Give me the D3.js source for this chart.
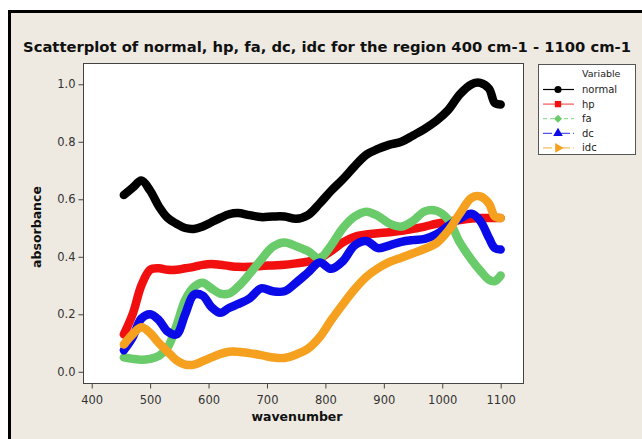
<!DOCTYPE html>
<html>
<head>
<meta charset="utf-8">
<script src="https://cdn.jsdelivr.net/npm/d3@7"></script>
<style>
  body { margin: 0; background: #fff; }
  text { font-family: "DejaVu Sans", Verdana, sans-serif; }
</style>
</head>
<body>
<div id="chart"></div>
<script>
// wavenumber grid shared by every series
var wavenumber = [455, 470, 485, 500, 515, 530, 545, 560, 575, 590, 605, 620, 635, 650, 670, 690, 710, 730, 750, 770,
  790, 810, 830, 850, 870, 890, 910, 930, 950, 970, 990, 1010, 1030, 1050, 1065, 1080, 1090, 1100];

var normal = [0.615, 0.64, 0.665, 0.63, 0.575, 0.535, 0.515, 0.50, 0.497, 0.505, 0.52, 0.535, 0.548, 0.552, 0.545, 0.538, 0.54, 0.54, 0.532, 0.545,
  0.585, 0.63, 0.67, 0.715, 0.755, 0.775, 0.79, 0.80, 0.822, 0.845, 0.873, 0.91, 0.965, 1.0, 1.005, 0.985, 0.935, 0.93];
var hp = [0.13, 0.20, 0.30, 0.355, 0.36, 0.355, 0.355, 0.36, 0.365, 0.372, 0.375, 0.372, 0.368, 0.365, 0.365, 0.368, 0.37, 0.372, 0.377, 0.383,
  0.395, 0.42, 0.45, 0.47, 0.478, 0.482, 0.485, 0.49, 0.497, 0.505, 0.515, 0.522, 0.528, 0.533, 0.535, 0.535, 0.535, 0.535];
var fa = [0.05, 0.045, 0.042, 0.045, 0.055, 0.085, 0.16, 0.25, 0.295, 0.31, 0.29, 0.272, 0.272, 0.295, 0.34, 0.39, 0.435, 0.45, 0.437, 0.42,
  0.395, 0.44, 0.50, 0.54, 0.557, 0.542, 0.515, 0.505, 0.525, 0.558, 0.56, 0.53, 0.45, 0.39, 0.352, 0.32, 0.315, 0.335];
var dc = [0.075, 0.12, 0.185, 0.20, 0.18, 0.14, 0.13, 0.20, 0.268, 0.265, 0.225, 0.205, 0.222, 0.235, 0.255, 0.29, 0.28, 0.28, 0.31, 0.345,
  0.38, 0.358, 0.385, 0.44, 0.455, 0.43, 0.44, 0.452, 0.458, 0.462, 0.478, 0.507, 0.532, 0.55, 0.525, 0.465, 0.43, 0.425];
var idc = [0.095, 0.13, 0.155, 0.135, 0.10, 0.07, 0.04, 0.025, 0.025, 0.037, 0.05, 0.062, 0.07, 0.07, 0.065, 0.058, 0.05, 0.048, 0.06, 0.08,
  0.12, 0.18, 0.235, 0.287, 0.33, 0.36, 0.382, 0.397, 0.412, 0.428, 0.447, 0.49, 0.55, 0.605, 0.61, 0.585, 0.54, 0.535];

var variables = ["normal", "hp", "fa", "dc", "idc"];
var seriesValues = [normal, hp, fa, dc, idc];
var colors = ["#000000", "#f20f0f", "#6acb6a", "#0b0bea", "#f5a01e"];
var xTicks = [400, 500, 600, 700, 800, 900, 1000, 1100];
var yTicks = [0.0, 0.2, 0.4, 0.6, 0.8, 1.0];

var W = 642, H = 439;
var plot = {left: 83, top: 63, right: 523, bottom: 383};

var svg = d3.select("#chart").append("svg")
    .attr("width", W)
    .attr("height", H);

// beige panel with black frame
svg.append("rect")
    .attr("x", 9.5).attr("y", 11.5)
    .attr("width", W + 10).attr("height", H + 10)
    .attr("fill", "#eeeae2")
    .attr("stroke", "#000")
    .attr("stroke-width", 3);

svg.append("text")
    .attr("x", 327).attr("y", 52)
    .attr("text-anchor", "middle")
    .attr("font-size", 14.6)
    .attr("font-weight", "bold")
    .attr("fill", "#111")
    .attr("textLength", 608)
    .attr("lengthAdjust", "spacingAndGlyphs")
    .text("Scatterplot of normal, hp, fa, dc, idc for the region 400 cm-1 - 1100 cm-1");

var x = d3.scaleLinear().domain([385.1, 1138.2]).range([plot.left, plot.right]);
var y = d3.scaleLinear().domain([-0.039, 1.074]).range([plot.bottom, plot.top]);

svg.append("rect")
    .attr("x", plot.left + 0.5).attr("y", plot.top + 0.5)
    .attr("width", plot.right - plot.left).attr("height", plot.bottom - plot.top)
    .attr("fill", "#fff")
    .attr("stroke", "#444");

// axes
var xAxis = svg.append("g")
    .attr("transform", "translate(0," + (plot.bottom + 0.5) + ")")
    .call(d3.axisBottom(x).tickValues(xTicks).tickFormat(d3.format("d")).tickSize(5).tickSizeOuter(0));
var yAxis = svg.append("g")
    .attr("transform", "translate(" + (plot.left + 0.5) + ",0)")
    .call(d3.axisLeft(y).tickValues(yTicks).tickFormat(d3.format(".1f")).tickSize(5).tickSizeOuter(0));

[xAxis, yAxis].forEach(function(a) {
  a.select(".domain").remove();
  a.selectAll("line").attr("stroke", "#444");
  a.selectAll("text").attr("fill", "#333").attr("font-size", 11.5)
    .style("font-family", "Tahoma, 'DejaVu Sans', sans-serif");
});
xAxis.selectAll("text").attr("dy", "1.1em");

svg.append("text")
    .attr("x", 297).attr("y", 421)
    .attr("text-anchor", "middle")
    .attr("font-size", 12.5).attr("font-weight", "bold").attr("fill", "#111")
    .text("wavenumber");

svg.append("text")
    .attr("transform", "translate(41,227) rotate(-90)")
    .attr("text-anchor", "middle")
    .attr("font-size", 12.5).attr("font-weight", "bold").attr("fill", "#111")
    .text("absorbance");

// the series - dense markers read as a thick line
var line = d3.line()
    .x(function(d) { return x(d[0]); })
    .y(function(d) { return y(d[1]); })
    .curve(d3.curveCatmullRom);

svg.append("g").selectAll("path")
  .data(seriesValues)
  .enter().append("path")
    .attr("d", function(vals) { return line(wavenumber.map(function(w, i) { return [w, vals[i]]; })); })
    .attr("fill", "none")
    .attr("stroke", function(d, i) { return colors[i]; })
    .attr("stroke-width", 8.5)
    .attr("stroke-linejoin", "round")
    .attr("stroke-linecap", "round");

// legend
var lg = svg.append("g").attr("transform", "translate(538,64)");
lg.append("rect")
    .attr("x", 0.5).attr("y", 0.5)
    .attr("width", 97).attr("height", 90)
    .attr("fill", "#fff")
    .attr("stroke", "#555");
lg.append("text")
    .attr("x", 44).attr("y", 13)
    .attr("font-size", 9.5).attr("fill", "#222")
    .style("font-family", "Tahoma, 'DejaVu Sans', sans-serif")
    .text("Variable");

var dashes = [null, null, "4,3", "9,3,3,3", "9,3,3,3"];
var symbols = [d3.symbolCircle, d3.symbolSquare, d3.symbolSquare, d3.symbolTriangle, d3.symbolTriangle];
var rotations = [0, 0, 45, 0, 90];

var item = lg.selectAll(".item")
  .data(variables)
  .enter().append("g")
    .attr("class", "item")
    .attr("transform", function(d, i) { return "translate(0," + (25.5 + i * 14.6) + ")"; });

item.append("line")
    .attr("x1", 5).attr("x2", 36)
    .attr("stroke", function(d, i) { return colors[i]; })
    .attr("stroke-opacity", function(d, i) { return i === 0 ? 1 : 0.7; })
    .attr("stroke-dasharray", function(d, i) { return dashes[i]; })
    .attr("stroke-width", 1.2);

item.append("path")
    .attr("transform", function(d, i) { return "translate(20,0) rotate(" + rotations[i] + ")"; })
    .attr("d", function(d, i) { return d3.symbol().type(symbols[i]).size(i === 2 ? 32 : 40)(); })
    .attr("fill", function(d, i) { return colors[i]; });

item.append("text")
    .attr("x", 44).attr("y", 3.5)
    .attr("font-size", 10).attr("fill", "#222")
    .style("font-family", "Tahoma, 'DejaVu Sans', sans-serif")
    .text(function(d) { return d; });
</script>
</body>
</html>
